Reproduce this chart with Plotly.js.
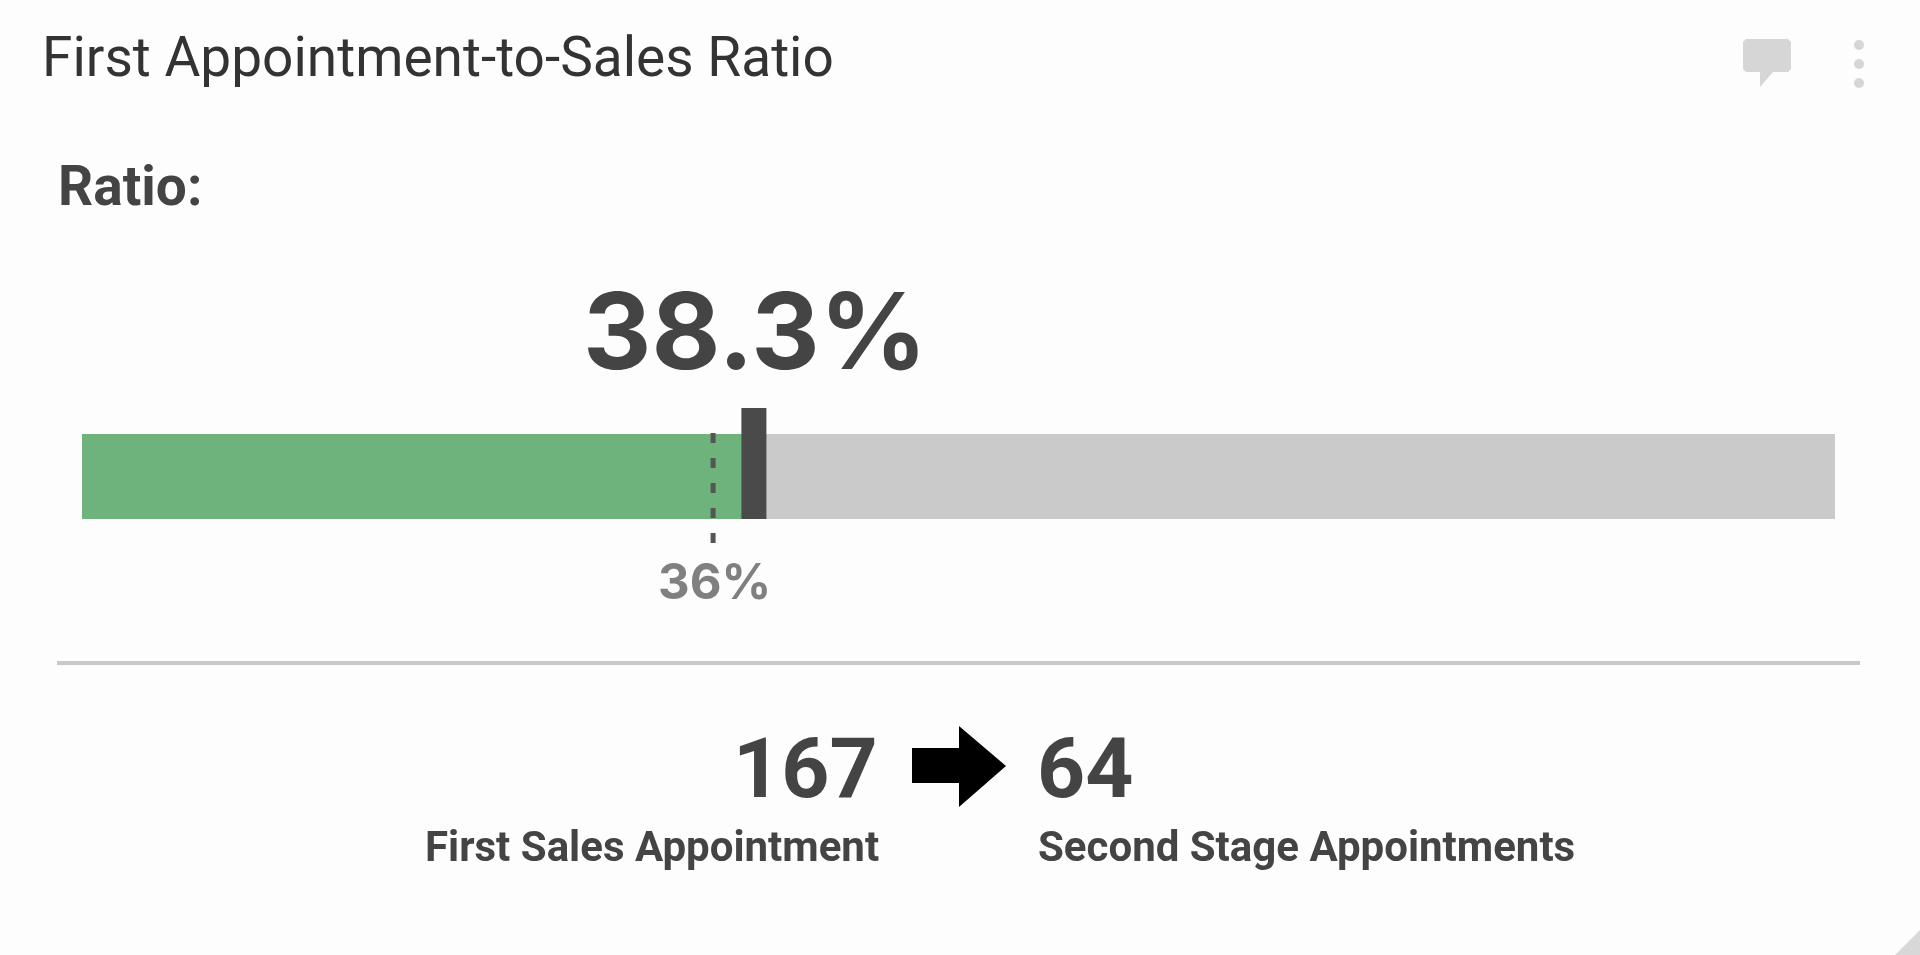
<!DOCTYPE html>
<html>
<head>
<meta charset="utf-8">
<script src="https://cdn.plot.ly/plotly-3.0.0.min.js"></script>
<style>html,body{margin:0;padding:0;background:#fdfdfd;overflow:hidden}#chart{width:1920px;height:955px;filter:blur(0.5px)}</style>
</head>
<body>
<div id="chart"></div>
<script>
const categories = ['Ratio'];
const ratioValue = [38.3];
const remainder = [61.7];
const targetValue = [36];
const firstCount = 167;
const secondCount = 64;
const chartTitle = 'First Appointment-to-Sales Ratio';
const sectionLabel = 'Ratio:';
const firstLabel = 'First Sales Appointment';
const secondLabel = 'Second Stage Appointments';

const W = 1920, H = 955;
const px = x => x / W;
const py = y => 1 - y / H;
const DARK = '#444444';
const ICON = '#d6d6d6';

function pathOf(points) {
  return 'M' + points.map(p => px(p[0]) + ',' + py(p[1])).join(' L') + ' Z';
}
function paperShape(points, color) {
  return {type: 'path', xref: 'paper', yref: 'paper', path: pathOf(points), fillcolor: color, line: {width: 0}, layer: 'above'};
}
function dot(cx, cy, r, color) {
  return {type: 'circle', xref: 'paper', yref: 'paper', x0: px(cx - r), x1: px(cx + r), y0: py(cy + r), y1: py(cy - r),
          fillcolor: color, line: {width: 0}};
}
function label(text, x, y, size, color, anchor, family, weight) {
  return {text: text, xref: 'paper', yref: 'paper', x: px(x), y: py(y), xanchor: anchor, yanchor: 'middle',
          showarrow: false, borderpad: 0, align: anchor,
          font: {family: family || 'Roboto', size: size, color: color, weight: weight || 700}};
}

const traces = [
  {type: 'bar', orientation: 'h', y: categories, x: ratioValue, marker: {color: '#6fb37c', line: {width: 0}}, hoverinfo: 'skip'},
  {type: 'bar', orientation: 'h', y: categories, x: remainder, marker: {color: '#cacaca', line: {width: 0}}, hoverinfo: 'skip'}
];

const layout = {
  width: W, height: H, autosize: false,
  margin: {l: 0, r: 0, t: 0, b: 0, pad: 0},
  paper_bgcolor: '#fdfdfd', plot_bgcolor: 'rgba(0,0,0,0)',
  barmode: 'stack', bargap: 0, showlegend: false,
  xaxis: {domain: [px(82), px(1835)], range: [0, 100], visible: false, fixedrange: true},
  yaxis: {domain: [py(519), py(434)], visible: false, fixedrange: true},
  shapes: [
    {type: 'line', xref: 'x', yref: 'paper', x0: targetValue[0], x1: targetValue[0], y0: py(433), y1: py(544),
     line: {color: '#555555', width: 5, dash: '10px 15px'}, layer: 'above'},
    {type: 'rect', xref: 'x', yref: 'paper', xsizemode: 'pixel', xanchor: ratioValue[0], x0: -12, x1: 13,
     y0: py(519), y1: py(408), fillcolor: '#4a4a4a', line: {width: 0}, layer: 'above'},
    {type: 'line', xref: 'paper', yref: 'paper', x0: px(57), x1: px(1860), y0: py(663), y1: py(663),
     line: {color: '#c9c9c9', width: 4}},
    paperShape([[912,748],[959,748],[959,726],[1006,766],[959,807],[959,783],[912,783]], '#000000'),
    paperShape([[1743,42],[1746,39],[1788,39],[1791,42],[1791,69],[1788,72],[1773,72],[1760,87],[1760,72],[1746,72],[1743,69]], ICON),
    dot(1859, 45, 5, ICON), dot(1859, 64, 5, ICON), dot(1859, 83, 5, ICON),
    paperShape([[1895,955],[1920,930],[1920,955]], '#d8d8d8')
  ],
  annotations: [
    label(chartTitle, 41, 57, 55, '#333333', 'left', 'Roboto', 400),
    label(sectionLabel, 57, 186, 55, DARK, 'left'),
    label(ratioValue[0] + '%', 755, 330, 106, DARK, 'center', 'Inter'),
    label(targetValue[0] + '%', 714, 581, 49, '#808080', 'center', 'Inter'),
    label(String(firstCount), 879, 768, 84, DARK, 'right'),
    label(String(secondCount), 1036, 768, 84, DARK, 'left'),
    label(firstLabel, 880, 846, 42, DARK, 'right'),
    label(secondLabel, 1037, 846, 42, DARK, 'left')
  ]
};

Plotly.newPlot('chart', traces, layout, {displayModeBar: false, staticPlot: true});
</script>
</body>
</html>
